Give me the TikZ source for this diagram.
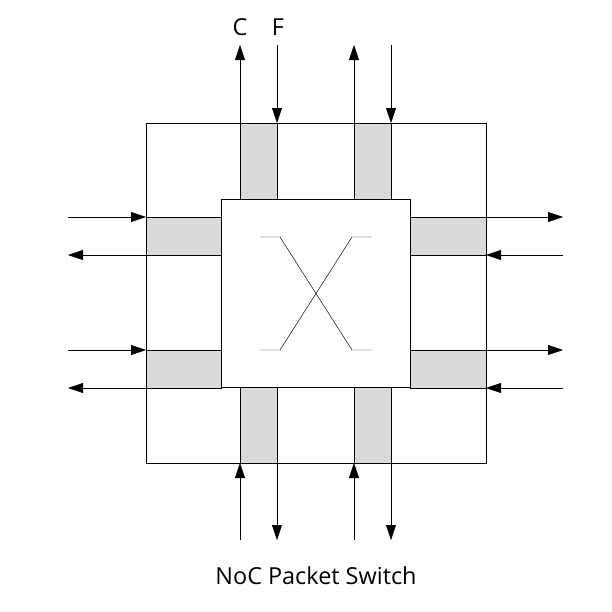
\documentclass[tikz,border=0pt]{standalone}
\usepackage{fontspec}
\setmainfont{Open Sans}
\usetikzlibrary{arrows.meta,positioning}

\begin{document}
\begin{tikzpicture}[x=0.03cm,y=-0.03cm,
        buf/.style = {draw,fill=gray!30},
        link/.style = {-{Triangle[length=0.45cm,width=0.3cm]}},
        lbl/.style = {font=\fontsize{20}{24}\selectfont}]
        \useasboundingbox (0,0) rectangle (611,612);
        % router frame
        \draw (146,123) rectangle (486,463);
        % buffers
        \foreach \x in {240,354} {
            \draw[buf] (\x,123) rectangle ++(37,76);
            \draw[buf] (\x,387) rectangle ++(37,76);
        }
        \foreach \y in {217,350} {
            \draw[buf] (146,\y) rectangle ++(75,38);
            \draw[buf] (410,\y) rectangle ++(76,38);
        }
        % crossbar
        \node[draw,fill=white,minimum width=5.67cm,minimum height=5.64cm,inner sep=0pt] (xbar) at (315.5,293) {};
        \draw (260,237) -- (280,237) -- (352,350) -- (372,350);
        \draw (260,350) -- (280,350) -- (352,237) -- (372,237);
        % vertical links
        \foreach \x in {240,354} {
            \draw[link] (\x,123) -- (\x,45);
            \draw[link] (\x+37,45) -- (\x+37,123);
            \draw[link] (\x,540) -- (\x,463);
            \draw[link] (\x+37,463) -- (\x+37,540);
        }
        % horizontal links
        \foreach \y in {217,350} {
            \draw[link] (68,\y) -- (146,\y);
            \draw[link] (146,\y+38) -- (68,\y+38);
            \draw[link] (486,\y) -- (563,\y);
            \draw[link] (563,\y+38) -- (486,\y+38);
        }
        \node[lbl] (c) at (240,27) {C};
        \node[lbl] (f) at (278,27) {F};
        \node[lbl] (title) at (316,576) {NoC Packet Switch};
\end{tikzpicture}
\end{document}
